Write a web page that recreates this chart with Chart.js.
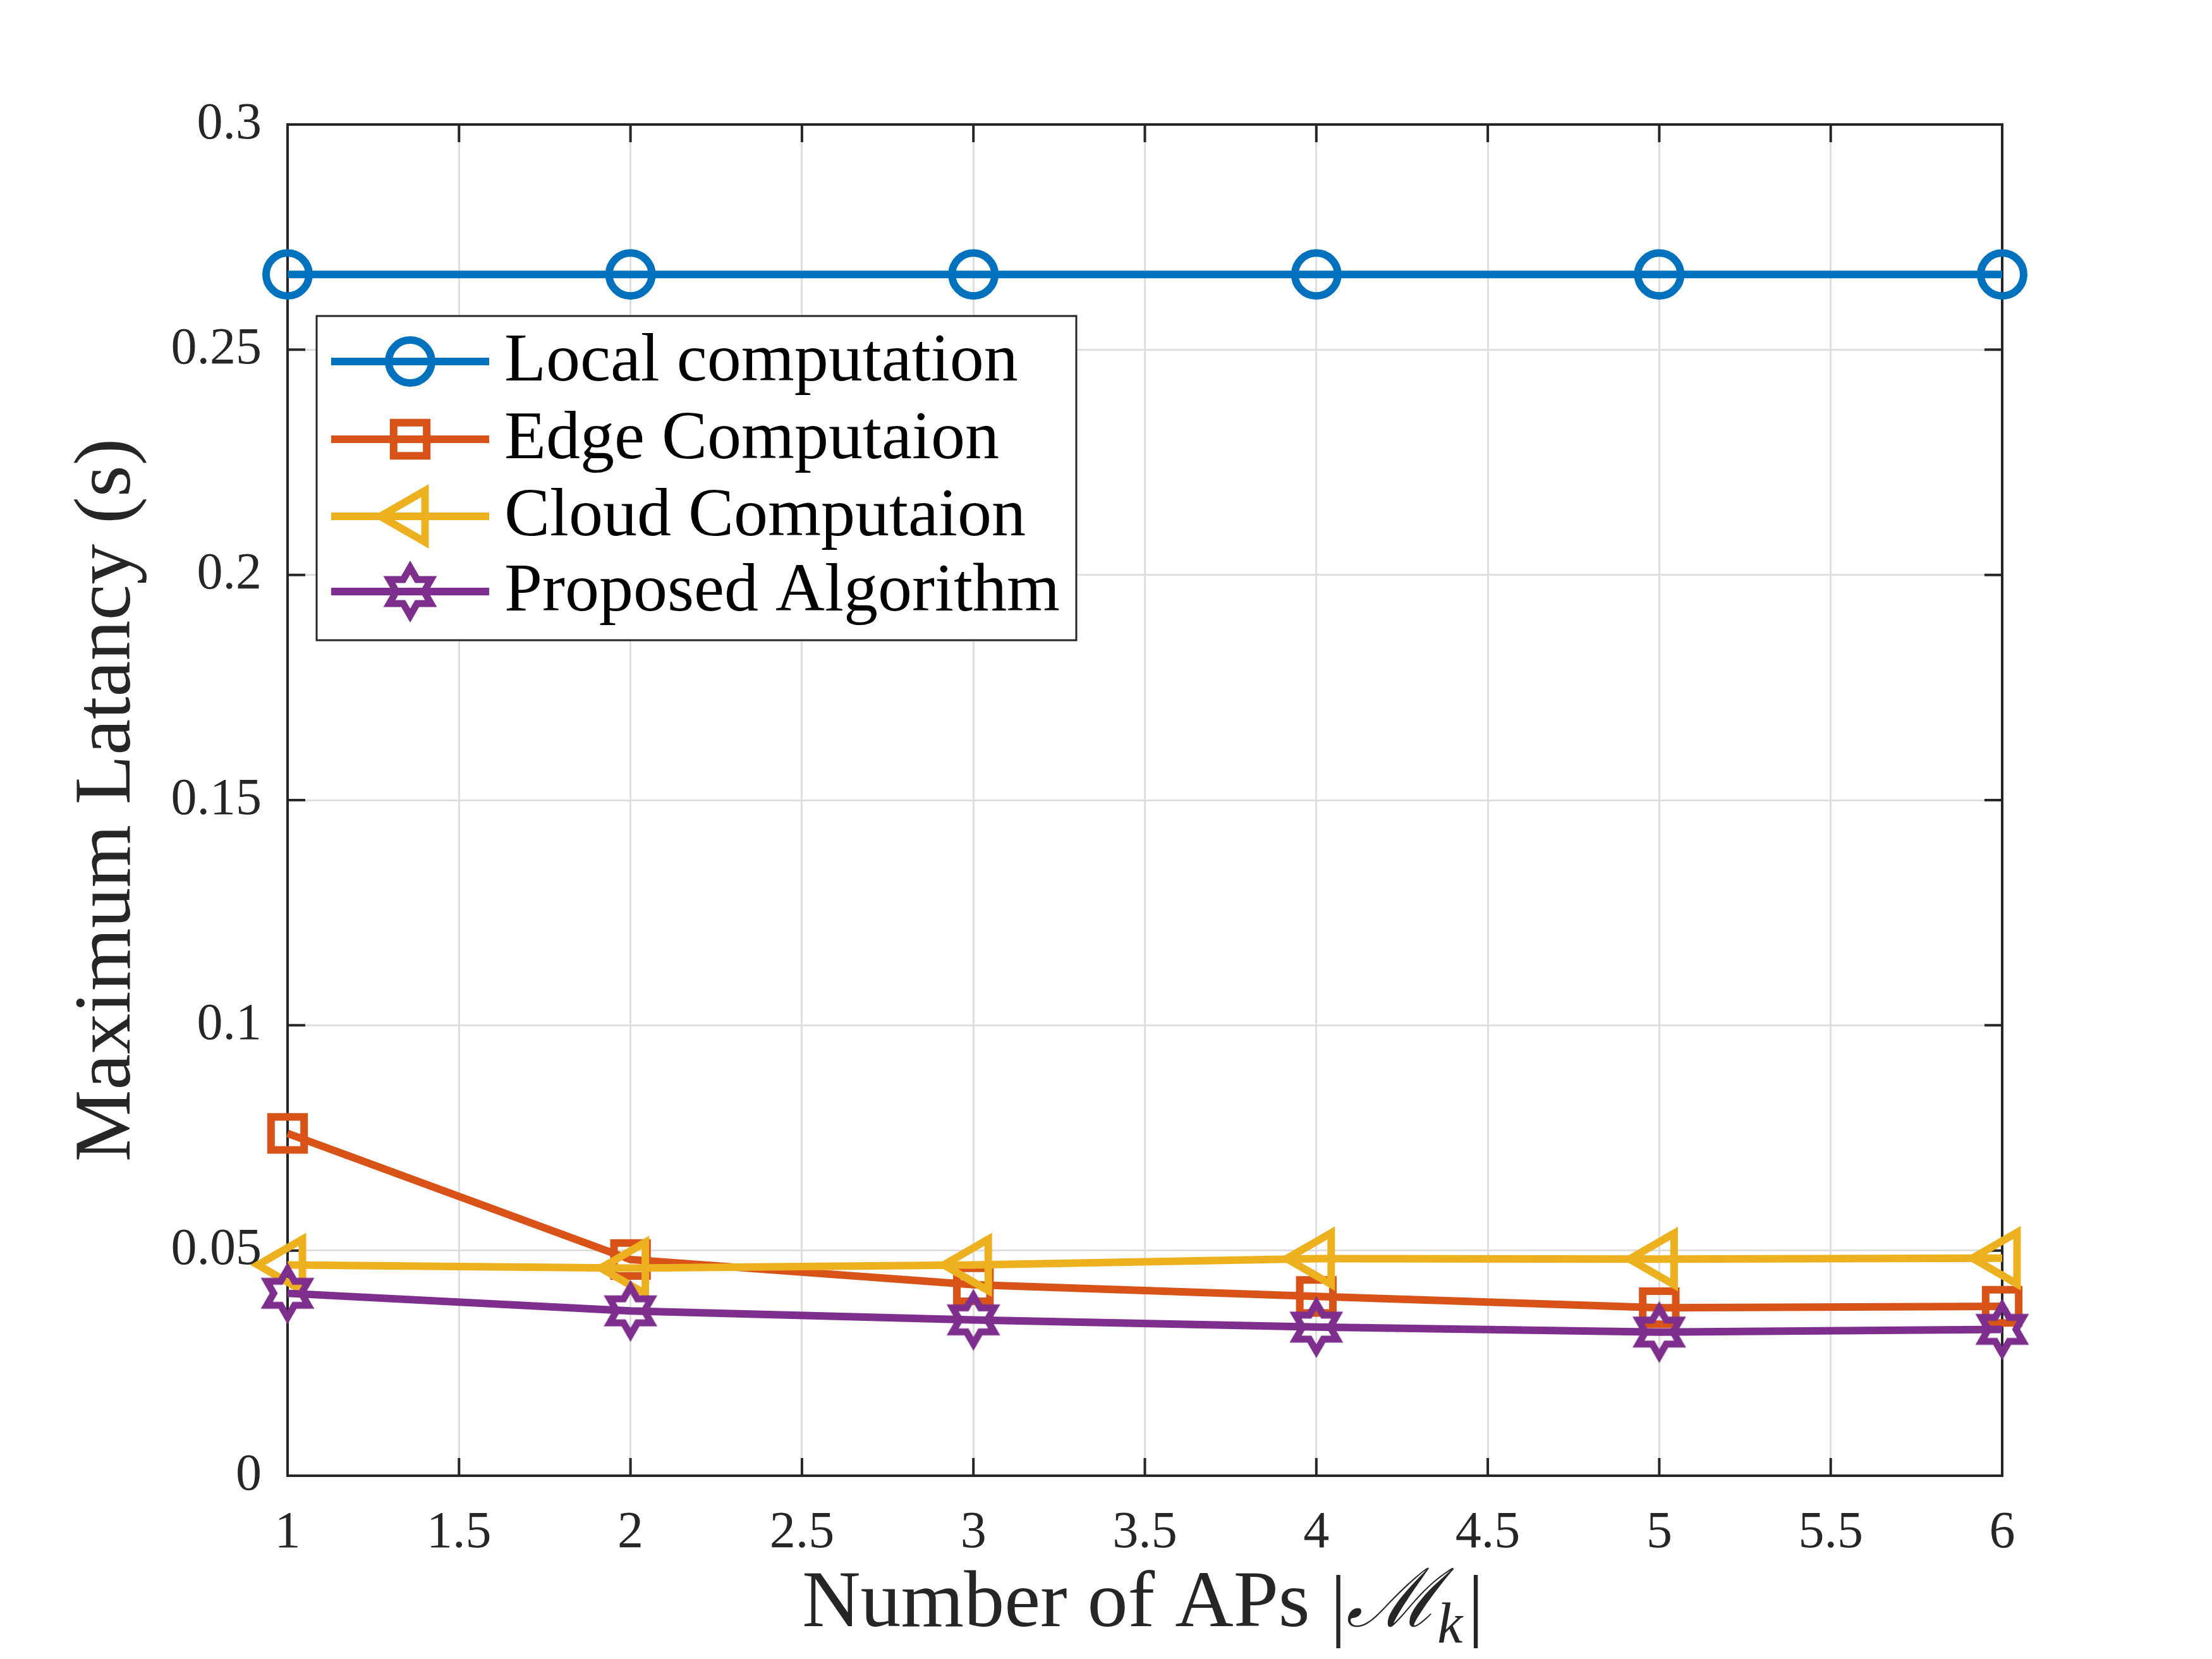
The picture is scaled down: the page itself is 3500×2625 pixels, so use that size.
<!DOCTYPE html>
<html>
<head>
<meta charset="utf-8">
<script src="https://cdn.jsdelivr.net/npm/chart.js@4.4.0/dist/chart.umd.min.js"></script>
<style>
  html, body { margin: 0; padding: 0; background: #ffffff; }
  #wrap { width: 3500px; height: 2625px; position: relative; }
</style>
</head>
<body>
<div id="wrap"><canvas id="c" width="3500" height="2625"></canvas></div>
<script>
// ---------------- data ----------------
const numAPs = [1, 2, 3, 4, 5, 6];
const localLatency    = [0.2667, 0.2667, 0.2667, 0.2667, 0.2667, 0.2667];
const edgeLatency     = [0.0760, 0.0480, 0.0424, 0.0398, 0.0373, 0.0376];
const cloudLatency    = [0.0468, 0.0461, 0.0468, 0.0482, 0.0481, 0.0483];
const proposedLatency = [0.0405, 0.0366, 0.0346, 0.0330, 0.0319, 0.0325];

const seriesNames = ['Local computation', 'Edge Computaion', 'Cloud Computaion', 'Proposed Algorithm'];
const xTickValues = [1, 1.5, 2, 2.5, 3, 3.5, 4, 4.5, 5, 5.5, 6];
const xTickLabels = ['1', '1.5', '2', '2.5', '3', '3.5', '4', '4.5', '5', '5.5', '6'];
const yTickValues = [0, 0.05, 0.1, 0.15, 0.2, 0.25, 0.3];
const yTickLabels = ['0', '0.05', '0.1', '0.15', '0.2', '0.25', '0.3'];
const yAxisTitle = 'Maximum Latancy (s)';
const xAxisTitleMain = 'Number of APs ';

// ---------------- styles ----------------
const COLORS = ['#0072BD', '#D95319', '#EDB120', '#7E2F8E'];
const LINE_W = 12;
const AXIS_COLOR = '#262626';
const SERIF = '"Liberation Serif", "Times New Roman", serif';

function makeHexagram(color, R, lw) {
  const pad = lw + 6;
  const size = Math.ceil(2 * (R + pad));
  const cv = document.createElement('canvas');
  cv.width = size; cv.height = size;
  const g = cv.getContext('2d');
  const cx = size / 2, cy = size / 2;
  const r = R / Math.sqrt(3);
  g.beginPath();
  for (let i = 0; i < 12; i++) {
    const ang = -Math.PI / 2 + i * Math.PI / 6;
    const rad = (i % 2 === 0) ? R : r;
    const px = cx + rad * Math.cos(ang), py = cy + rad * Math.sin(ang);
    if (i === 0) g.moveTo(px, py); else g.lineTo(px, py);
  }
  g.closePath();
  g.lineWidth = lw;
  g.lineJoin = 'miter';
  g.miterLimit = 10;
  g.strokeStyle = color;
  g.stroke();
  return cv;
}
const hexImg = makeHexagram(COLORS[3], 38, 11);

const markerDefs = [
  { style: 'circle', radius: 34, rotation: 0 },
  { style: 'rect', radius: 37, rotation: 0 },
  { style: 'triangle', radius: 47, rotation: -90 },
  { style: hexImg, radius: 40, rotation: 0 }
];

function toPoints(vals) { return numAPs.map((x, i) => ({ x: x, y: vals[i] })); }
const allSeries = [localLatency, edgeLatency, cloudLatency, proposedLatency];

const datasets = allSeries.map((vals, i) => ({
  label: seriesNames[i],
  data: toPoints(vals),
  borderColor: COLORS[i],
  backgroundColor: 'rgba(0,0,0,0)',
  borderWidth: LINE_W,
  pointStyle: markerDefs[i].style,
  pointRadius: markerDefs[i].radius,
  pointRotation: markerDefs[i].rotation,
  pointBorderWidth: LINE_W,
  pointBorderColor: COLORS[i],
  pointBackgroundColor: 'rgba(0,0,0,0)',
  pointHoverRadius: markerDefs[i].radius,
  tension: 0,
  clip: false,
  order: 3 - i
}));

// ---------------- plugin: box, inward ticks, legend, x title ----------------
const matlabPlugin = {
  id: 'matlabDecor',
  beforeDatasetsDraw(chart) {
    const { ctx, chartArea: a, scales } = chart;
    ctx.save();
    ctx.strokeStyle = AXIS_COLOR;
    ctx.lineWidth = 4;
    const TL = 28;
    ctx.beginPath();
    xTickValues.forEach(v => {
      const px = scales.x.getPixelForValue(v);
      ctx.moveTo(px, a.bottom); ctx.lineTo(px, a.bottom - TL);
      ctx.moveTo(px, a.top); ctx.lineTo(px, a.top + TL);
    });
    yTickValues.forEach(v => {
      const py = scales.y.getPixelForValue(v);
      ctx.moveTo(a.left, py); ctx.lineTo(a.left + TL, py);
      ctx.moveTo(a.right, py); ctx.lineTo(a.right - TL, py);
    });
    ctx.stroke();
    ctx.strokeRect(a.left, a.top, a.right - a.left, a.bottom - a.top);
    ctx.restore();
  },
  afterDraw(chart) {
    const { ctx, chartArea: a } = chart;
    ctx.save();
    // ---- legend ----
    const bx = a.left + 46, by = a.top + 303, bw = 1202, bh = 513;
    ctx.fillStyle = '#ffffff';
    ctx.fillRect(bx, by, bw, bh);
    ctx.strokeStyle = AXIS_COLOR;
    ctx.lineWidth = 3;
    ctx.strokeRect(bx, by, bw, bh);
    const rowY = [72, 195, 317, 436];
    chart.data.datasets.forEach((ds, i) => {
      const y = by + rowY[i];
      const x0 = bx + 23, x1 = bx + 273, xm = (x0 + x1) / 2;
      ctx.strokeStyle = ds.borderColor;
      ctx.lineWidth = LINE_W;
      ctx.beginPath(); ctx.moveTo(x0, y); ctx.lineTo(x1, y); ctx.stroke();
      const m = markerDefs[i];
      ctx.lineWidth = LINE_W;
      ctx.strokeStyle = ds.borderColor;
      ctx.beginPath();
      if (m.style === 'circle') {
        ctx.arc(xm, y, m.radius, 0, Math.PI * 2);
        ctx.stroke();
      } else if (m.style === 'rect') {
        const s = Math.SQRT1_2 * m.radius;
        ctx.rect(xm - s, y - s, 2 * s, 2 * s);
        ctx.stroke();
      } else if (m.style === 'triangle') {
        const r = m.radius;
        for (let k = 0; k < 3; k++) {
          const ang = Math.PI + k * 2 * Math.PI / 3;
          const px = xm + Math.cos(ang) * r, py = y + Math.sin(ang) * r;
          if (k === 0) ctx.moveTo(px, py); else ctx.lineTo(px, py);
        }
        ctx.closePath();
        ctx.stroke();
      } else {
        ctx.drawImage(m.style, xm - m.style.width / 2, y - m.style.height / 2);
      }
      ctx.fillStyle = '#000000';
      ctx.font = '108px ' + SERIF;
      ctx.textAlign = 'left';
      ctx.textBaseline = 'middle';
      ctx.fillText(ds.label, bx + 297, y + 2);
    });
    // ---- x axis title with math ----
    const fs = 128;
    ctx.fillStyle = '#262626';
    ctx.textBaseline = 'alphabetic';
    ctx.textAlign = 'left';
    const fontMain = fs + 'px ' + SERIF;
    const fontM = 'italic ' + fs + 'px "DejaVu Serif", ' + SERIF;
    const fontSub = 'italic ' + Math.round(fs * 0.7) + 'px ' + SERIF;
    const bar = '|';
    ctx.font = fontMain;
    const wMain = ctx.measureText(xAxisTitleMain).width;
    const wBar = ctx.measureText(bar).width;
    ctx.font = fontM;
    const wM = ctx.measureText('ℳ').width;
    ctx.font = fontSub;
    const wK = ctx.measureText('k').width;
    const total = wMain + wBar + wM + wK + wBar + 10;
    let x = (a.left + a.right) / 2 - total / 2;
    const base = 2573;
    ctx.font = fontMain; ctx.fillText(xAxisTitleMain, x, base); x += wMain;
    ctx.fillText(bar, x, base + 8); x += wBar;
    ctx.font = fontM; ctx.fillText('ℳ', x, base); x += wM;
    ctx.font = fontSub; ctx.fillText('k', x - 4, base + 26); x += wK + 4;
    ctx.font = fontMain; ctx.fillText(bar, x, base + 8);
    ctx.restore();
  }
};

// ---------------- chart ----------------
const ctx = document.getElementById('c').getContext('2d');
new Chart(ctx, {
  type: 'line',
  data: { datasets: datasets },
  plugins: [matlabPlugin],
  options: {
    responsive: false,
    devicePixelRatio: 1,
    animation: false,
    events: [],
    layout: { padding: { left: 0, right: 332, top: 197, bottom: 0 } },
    plugins: {
      legend: { display: false },
      tooltip: { enabled: false },
      title: { display: false }
    },
    scales: {
      x: {
        type: 'linear',
        min: 1, max: 6,
        afterBuildTicks: (s) => { s.ticks = xTickValues.map(v => ({ value: v })); },
        afterFit: (s) => { s.height = 290; },
        ticks: {
          autoSkip: false,
          maxRotation: 0,
          padding: 42,
          color: '#262626',
          font: { family: SERIF, size: 82 },
          callback: (v) => { const i = xTickValues.indexOf(v); return i >= 0 ? xTickLabels[i] : ''; }
        },
        grid: { color: '#dedede', lineWidth: 3, drawTicks: false },
        border: { display: false },
        title: { display: false }
      },
      y: {
        type: 'linear',
        min: 0, max: 0.3,
        afterBuildTicks: (s) => { s.ticks = yTickValues.map(v => ({ value: v })); },
        afterFit: (s) => { s.width = 455; },
        ticks: {
          autoSkip: false,
          padding: 41,
          color: '#262626',
          font: { family: SERIF, size: 82 },
          callback: (v) => { const i = yTickValues.indexOf(v); return i >= 0 ? yTickLabels[i] : ''; }
        },
        grid: { color: '#dedede', lineWidth: 3, drawTicks: false },
        border: { display: false },
        title: {
          display: true,
          text: yAxisTitle,
          color: '#262626',
          font: { family: SERIF, size: 128 },
          padding: { top: 95, bottom: 0 }
        }
      }
    }
  }
});
</script>
</body>
</html>
